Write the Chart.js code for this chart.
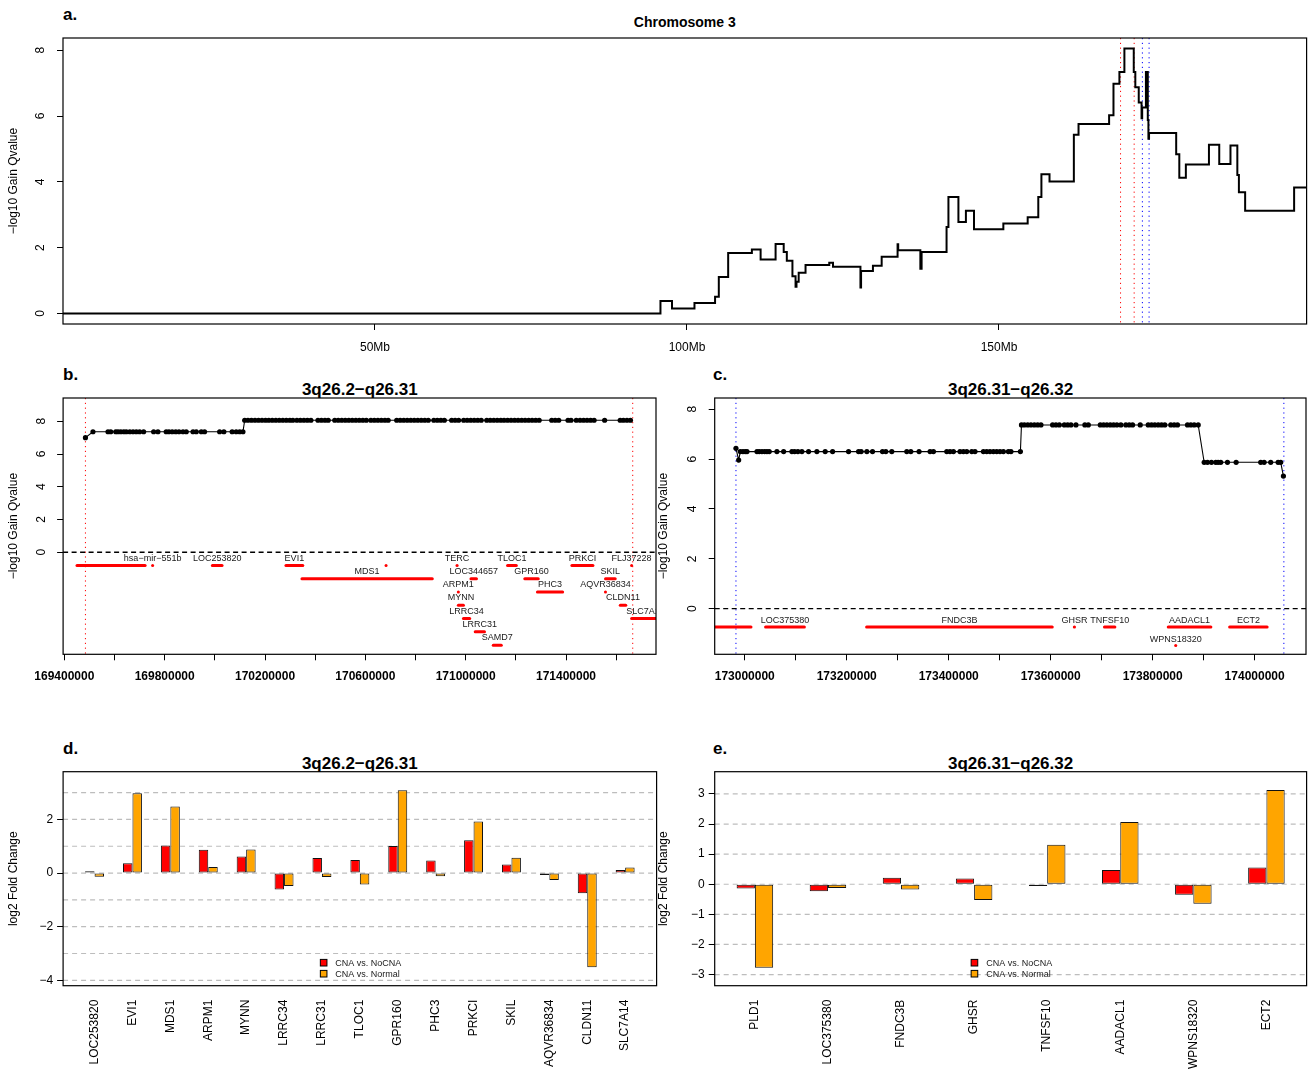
<!DOCTYPE html>
<html>
<head>
<meta charset="utf-8">
<title>Chromosome 3 gain and expression</title>
<script src="https://cdn.jsdelivr.net/npm/chart.js@4.4.1/dist/chart.umd.min.js"></script>
<style>
  html, body { margin: 0; padding: 0; background: #fff; }
  body { width: 1310px; height: 1072px; position: relative; overflow: hidden;
         font-family: "Liberation Sans", Arial, Helvetica, sans-serif; color: #000; }
  canvas { position: absolute; }
  .lab { position: absolute; font-weight: bold; font-size: 17px; line-height: 1;
         transform: translate(0, -50%); white-space: nowrap; }
  .ttl { position: absolute; font-weight: bold; font-size: 17px; line-height: 1;
         transform: translate(-50%, -50%); white-space: nowrap; }
</style>
</head>
<body>
<div class="lab" style="left:63px;top:14px">a.</div>
<div class="ttl" style="left:684.8px;top:22px;font-size:14px">Chromosome 3</div>
<div class="lab" style="left:63px;top:374px">b.</div>
<div class="ttl" style="left:359.8px;top:389px">3q26.2−q26.31</div>
<div class="lab" style="left:713px;top:374px">c.</div>
<div class="ttl" style="left:1010.6px;top:389px">3q26.31−q26.32</div>
<div class="lab" style="left:63px;top:748px">d.</div>
<div class="ttl" style="left:359.8px;top:763px">3q26.2−q26.31</div>
<div class="lab" style="left:713px;top:748px">e.</div>
<div class="ttl" style="left:1010.6px;top:763px">3q26.31−q26.32</div>

<canvas id="cA" width="1310" height="360" style="left:0;top:0"></canvas>
<canvas id="cB" width="660" height="335" style="left:0;top:360px"></canvas>
<canvas id="cC" width="660" height="335" style="left:650px;top:360px"></canvas>
<canvas id="cD" width="660" height="337" style="left:0;top:735px"></canvas>
<canvas id="cE" width="660" height="337" style="left:650px;top:735px"></canvas>

<script>
// ---------- a. Chromosome 3 gain profile (segment start in Mb, -log10 q-value) ----------
const chrStartMb = [0, 95.75, 97.6, 101.2, 104.5, 105.1, 106.6, 110.4, 111.8, 114.2,
  115.5, 116.0, 116.9, 117.4, 117.55, 117.9, 119.0, 122.8, 123.4, 127.8,
  127.9, 129.8, 131.2, 133.75, 133.85, 137.4, 137.6, 141.6, 141.9, 143.5,
  144.7, 146.0, 150.7, 154.6, 156.3, 156.8, 158.1, 162.0, 162.75, 167.65,
  168.35, 169.3, 170.1, 171.6, 171.85, 172.4, 172.85, 172.95, 173.55, 173.85,
  173.95, 174.05, 178.4, 178.9, 179.95, 183.65, 185.3, 187.1, 188.2, 188.45,
  189.45, 197.3];
const chrQ = [0, 0.38, 0.15, 0.32, 0.51, 1.11, 1.84, 1.94, 1.64, 2.11,
  1.87, 1.60, 1.13, 0.81, 0.96, 1.24, 1.47, 1.54, 1.42, 0.79,
  1.29, 1.45, 1.72, 2.10, 1.92, 1.36, 1.87, 2.63, 3.54, 2.78,
  3.12, 2.56, 2.73, 2.92, 3.54, 4.23, 4.01, 5.43, 5.76, 6.02,
  6.98, 7.34, 8.05, 7.34, 6.87, 6.41, 5.93, 6.26, 7.34, 5.88,
  5.31, 5.48, 4.84, 4.12, 4.53, 5.13, 4.54, 5.10, 4.21, 3.68,
  3.12, 3.83];
const chrEndMb = 199.3;
const chrTicksMb = [50, 100, 150];
const qTicks = [0, 2, 4, 6, 8];

// peak region boundaries (bp)
const regionB = [169484000, 171666000];
const regionC = [172982800, 174057300];

// ---------- b. 3q26.2-q26.31 ----------
const bPointPos = [169484000, 169514000, 169574000, 169585000, 169605000, 169614000, 169625000, 169637000,
  169647000, 169661000, 169674000, 169687000, 169700000, 169716000, 169756000, 169773000, 169806000,
  169817000, 169830000, 169844000, 169857000, 169873000, 169886000, 169913000, 169926000, 169946000,
  169959000, 170019000, 170036000, 170069000, 170085000, 170099000, 170112000,
  170119000, 170132000, 170146000, 170160000, 170174000, 170188000, 170202000, 170215000, 170229000,
  170243000, 170257000, 170271000, 170285000, 170299000, 170311000, 170327000, 170341000, 170355000,
  170369000, 170383000, 170411000, 170425000, 170439000, 170452000, 170478000, 170492000, 170506000,
  170520000, 170534000, 170548000, 170562000, 170576000, 170590000, 170604000, 170622000, 170636000,
  170650000, 170664000, 170678000, 170691000, 170725000, 170739000, 170753000, 170767000, 170781000,
  170795000, 170809000, 170823000, 170837000, 170851000, 170873000, 170887000, 170901000, 170915000,
  170944000, 170958000, 170972000, 170992000, 171006000, 171020000, 171034000, 171048000, 171062000,
  171084000, 171098000, 171112000, 171126000, 171140000, 171153000, 171167000, 171181000, 171195000,
  171209000, 171223000, 171237000, 171251000, 171265000, 171279000, 171293000, 171343000, 171357000,
  171371000, 171408000, 171420000, 171441000, 171456000, 171470000, 171484000, 171498000, 171512000,
  171554000, 171616000, 171629000, 171643000, 171657000];
const bPointQ = [7.00,
  7.36, 7.36, 7.36, 7.36, 7.36, 7.36, 7.36, 7.36, 7.36, 7.36, 7.36, 7.36, 7.36, 7.36, 7.36, 7.36,
  7.36, 7.36, 7.36, 7.36, 7.36, 7.36, 7.36, 7.36, 7.36, 7.36, 7.36, 7.36, 7.36, 7.36, 7.36, 7.36,
  8.06, 8.06, 8.06, 8.06, 8.06, 8.06, 8.06, 8.06, 8.06, 8.06, 8.06, 8.06, 8.06, 8.06, 8.06, 8.06,
  8.06, 8.06, 8.06, 8.06, 8.06, 8.06, 8.06, 8.06, 8.06, 8.06, 8.06, 8.06, 8.06, 8.06, 8.06, 8.06,
  8.06, 8.06, 8.06, 8.06, 8.06, 8.06, 8.06, 8.06, 8.06, 8.06, 8.06, 8.06, 8.06, 8.06, 8.06, 8.06,
  8.06, 8.06, 8.06, 8.06, 8.06, 8.06, 8.06, 8.06, 8.06, 8.06, 8.06, 8.06, 8.06, 8.06, 8.06, 8.06,
  8.06, 8.06, 8.06, 8.06, 8.06, 8.06, 8.06, 8.06, 8.06, 8.06, 8.06, 8.06, 8.06, 8.06, 8.06, 8.06,
  8.06, 8.06, 8.06, 8.06, 8.06, 8.06, 8.06, 8.06, 8.06, 8.06, 8.06, 8.06, 8.06, 8.06, 8.06];
const bGeneName = ['', 'hsa−mir−551b', 'LOC253820', 'EVI1', '', 'TERC', 'TLOC1', 'PRKCI', 'FLJ37228',
  'MDS1', 'LOC344657', 'GPR160', 'SKIL', 'ARPM1', 'PHC3', 'AQVR36834', 'MYNN', 'CLDN11',
  'LRRC34', 'SLC7A14', 'LRRC31', 'SAMD7'];
const bGeneStart = [169450300, 169751900, 169990000, 170283500, 170682500, 170965400, 171167000, 171423500, 171661500,
  170347200, 171021000, 171235700, 171557500, 170970600, 171286000, 171557300, 170970800, 171616400,
  170991000, 171661600, 171038000, 171110000];
const bGeneEnd = [169721900, 169752000, 170028700, 170350600, 170682600, 170965800, 171202000, 171507300, 171661600,
  170866900, 171043000, 171289300, 171596100, 170970800, 171386600, 171557500, 170991000, 171638200,
  171016000, 171771800, 171075000, 171142000];
const bGeneRow = [1, 1, 1, 1, 1, 1, 1, 1, 1, 2, 2, 2, 2, 3, 3, 3, 4, 4, 5, 5, 6, 7];
const bTicks = [169400000, 169600000, 169800000, 170000000, 170200000, 170400000,
  170600000, 170800000, 171000000, 171200000, 171400000, 171600000];
const bTickLabels = [169400000, 169800000, 170200000, 170600000, 171000000, 171400000];

// ---------- c. 3q26.31-q26.32 ----------
const cPointPos = [172982800, 172988100,
  172991300, 172996500, 173001000, 173004400, 173024000, 173028500, 173033800, 173039000, 173043600,
  173048100, 173063100, 173076300, 173092500, 173097800, 173104300, 173112100, 173125200, 173141500,
  173157800, 173172300, 173203600, 173223200, 173228300, 173239500, 173250600, 173270200, 173276700,
  173288400, 173317800, 173325700, 173341900, 173363500, 173370100, 173396200, 173402600, 173409300,
  173422200, 173428900, 173435400, 173445200, 173451600, 173468100, 173474500, 173481000, 173487700,
  173494100, 173500600, 173507300, 173517000, 173522100, 173540600,
  173542700, 173548400, 173554900, 173561300, 173568000, 173574400, 173580900, 173603800, 173610300,
  173617000, 173626800, 173633200, 173639700, 173649500, 173667100, 173673800, 173697300, 173703700,
  173710200, 173716900, 173723300, 173729800, 173737600, 173747400, 173754100, 173760600, 173775600,
  173791300, 173797800, 173804200, 173810900, 173817400, 173823800, 173835600, 173842200, 173848700,
  173868300, 173874800, 173881400, 173889300,
  173901000, 173907500, 173915300, 173923700, 173928400, 173933500, 173946700, 173963700, 174011900,
  174018600, 174031500, 174046000, 174051100,
  174056400];
const cPointQ = [6.43, 5.96,
  6.30, 6.30, 6.30, 6.30, 6.30, 6.30, 6.30, 6.30, 6.30, 6.30, 6.30, 6.30, 6.30, 6.30, 6.30, 6.30, 6.30,
  6.30, 6.30, 6.30, 6.30, 6.30, 6.30, 6.30, 6.30, 6.30, 6.30, 6.30, 6.30, 6.30, 6.30, 6.30, 6.30, 6.30,
  6.30, 6.30, 6.30, 6.30, 6.30, 6.30, 6.30, 6.30, 6.30, 6.30, 6.30, 6.30, 6.30, 6.30, 6.30, 6.30, 6.30,
  7.37, 7.37, 7.37, 7.37, 7.37, 7.37, 7.37, 7.37, 7.37, 7.37, 7.37, 7.37, 7.37, 7.37, 7.37, 7.37, 7.37,
  7.37, 7.37, 7.37, 7.37, 7.37, 7.37, 7.37, 7.37, 7.37, 7.37, 7.37, 7.37, 7.37, 7.37, 7.37, 7.37, 7.37,
  7.37, 7.37, 7.37, 7.37, 7.37, 7.37,
  5.87, 5.87, 5.87, 5.87, 5.87, 5.87, 5.87, 5.87, 5.87, 5.87, 5.87, 5.87, 5.87,
  5.32];
const cGeneName = ['PLD1', 'LOC375380', 'FNDC3B', 'GHSR', 'TNFSF10', 'AADACL1', 'ECT2', 'WPNS18320'];
const cGeneStart = [172800000, 173040900, 173239000, 173646300, 173705400, 173830600, 173950900, 173845100];
const cGeneEnd = [173012300, 173117000, 173603100, 173646700, 173725900, 173914100, 174024500, 173845300];
const cGeneRow = [1, 1, 1, 1, 1, 1, 1, 2];
const cTicks = [173000000, 173100000, 173200000, 173300000, 173400000, 173500000,
  173600000, 173700000, 173800000, 173900000, 174000000];
const cTickLabels = [173000000, 173200000, 173400000, 173600000, 173800000, 174000000];

// ---------- d. / e. log2 fold change of genes in each region ----------
const seriesNames = ['CNA vs. NoCNA', 'CNA vs. Normal'];
const dGenes = ['LOC253820', 'EVI1', 'MDS1', 'ARPM1', 'MYNN', 'LRRC34', 'LRRC31', 'TLOC1',
  'GPR160', 'PHC3', 'PRKCI', 'SKIL', 'AQVR36834', 'CLDN11', 'SLC7A14'];
const dNoCNA = [0.07, 0.37, 1.03, 0.87, 0.62, -0.61, 0.56, 0.49, 1.01, 0.47, 1.22, 0.32, -0.07, -0.75, 0.11];
const dNormal = [-0.14, 2.98, 2.48, 0.23, 0.88, -0.48, -0.15, -0.43, 3.09, -0.12, 1.92, 0.57, -0.26, -3.51, 0.21];
const dTicks = [-4, -2, 0, 2];
const dGrid = [-4, -3, -2, -1, 0, 1, 2, 3];

const eGenes = ['PLD1', 'LOC375380', 'FNDC3B', 'GHSR', 'TNFSF10', 'AADACL1', 'WPNS18320', 'ECT2'];
const eNoCNA = [-0.14, -0.23, 0.22, 0.19, -0.06, 0.47, -0.35, 0.56];
const eNormal = [-2.77, -0.12, -0.17, -0.52, 1.31, 2.07, -0.65, 3.13];
const eTicks = [-3, -2, -1, 0, 1, 2, 3];
const eGrid = [-3, -2, -1, 0, 1, 2, 3];

// ---------------------------------------------------------------------------
const FONT = '"Liberation Sans", Arial, Helvetica, sans-serif';
Chart.defaults.font.family = FONT;
Chart.defaults.color = '#000';

const setTicks = values => scale => { scale.ticks = values.map(v => ({ value: v })); };
const fixWidth = w => scale => { scale.width = w; };
const fixHeight = h => scale => { scale.height = h; };
const minus = s => String(s).replace('-', '\u2212');

// box around the plotting region
const framePlugin = {
  id: 'frame',
  afterDraw(chart) {
    const { ctx, chartArea: a } = chart;
    ctx.save();
    ctx.strokeStyle = '#000';
    ctx.lineWidth = 1.2;
    ctx.strokeRect(a.left, a.top, a.right - a.left, a.bottom - a.top);
    ctx.restore();
  }
};

// dotted vertical markers for region boundaries
const vLinePlugin = {
  id: 'vlines',
  beforeDatasetsDraw(chart, args, opts) {
    if (!opts || !opts.values) return;
    const { ctx, chartArea: a, scales: { x } } = chart;
    ctx.save();
    ctx.beginPath(); ctx.rect(a.left, a.top, a.right - a.left, a.bottom - a.top); ctx.clip();
    ctx.lineWidth = 1;
    ctx.setLineDash([1.2, 3.6]);
    opts.values.forEach((v, i) => {
      ctx.strokeStyle = opts.colors[i];
      const px = x.getPixelForValue(v);
      ctx.beginPath(); ctx.moveTo(px, a.top); ctx.lineTo(px, a.bottom); ctx.stroke();
    });
    ctx.restore();
  }
};

// dashed horizontal reference lines
const hLinePlugin = {
  id: 'hlines',
  beforeDatasetsDraw(chart, args, opts) {
    if (!opts || !opts.values) return;
    const { ctx, chartArea: a, scales: { y } } = chart;
    ctx.save();
    ctx.strokeStyle = opts.color;
    ctx.lineWidth = opts.width;
    ctx.setLineDash(opts.dash);
    opts.values.forEach(v => {
      const py = y.getPixelForValue(v);
      ctx.beginPath(); ctx.moveTo(a.left, py); ctx.lineTo(a.right, py); ctx.stroke();
    });
    ctx.restore();
  }
};

// gene names above their extent
const geneLabelPlugin = {
  id: 'geneLabels',
  afterDatasetsDraw(chart, args, opts) {
    if (!opts || !opts.names) return;
    const { ctx, chartArea: a, scales: { x, y } } = chart;
    ctx.save();
    ctx.beginPath(); ctx.rect(a.left, a.top, a.right - a.left, a.bottom - a.top); ctx.clip();
    ctx.font = '9px ' + FONT;
    ctx.fillStyle = '#1a1a1a';
    ctx.textAlign = 'center';
    ctx.textBaseline = 'middle';
    opts.names.forEach((n, i) => {
      if (!n) return;
      const px = x.getPixelForValue((opts.start[i] + opts.end[i]) / 2);
      const py = y.getPixelForValue(-opts.rowStep * opts.rows[i]) - opts.lift;
      ctx.fillText(n, px, py);
    });
    ctx.restore();
  }
};

// two-entry legend at the bottom centre of the plotting region
const barLegendPlugin = {
  id: 'barLegend',
  afterDraw(chart) {
    const { ctx, chartArea: a } = chart;
    const cx = (a.left + a.right) / 2;
    ctx.save();
    ctx.font = '9px ' + FONT;
    ctx.textAlign = 'left';
    ctx.textBaseline = 'middle';
    chart.data.datasets.forEach((ds, i) => {
      const cy = a.bottom - 23 + i * 11;
      ctx.fillStyle = ds.backgroundColor;
      ctx.fillRect(cx - 39.5, cy - 3.3, 6.6, 6.6);
      ctx.strokeStyle = '#000';
      ctx.lineWidth = 1;
      ctx.strokeRect(cx - 39.5, cy - 3.3, 6.6, 6.6);
      ctx.fillStyle = '#1a1a1a';
      ctx.fillText(ds.label, cx - 24.5, cy + 0.5);
    });
    ctx.restore();
  }
};

const tickGrid = { display: true, drawOnChartArea: false, drawTicks: true, tickLength: 6,
                   color: '#000', tickColor: '#000', lineWidth: 1 };
const baseOptions = {
  responsive: false, animation: false, events: [], devicePixelRatio: 1
};

function qAxis(min, max, width) {
  return {
    type: 'linear', min, max,
    afterBuildTicks: setTicks(qTicks), afterFit: fixWidth(width),
    ticks: { minRotation: 90, maxRotation: 90, crossAlign: 'center', padding: 12.5,
             font: { size: 12 }, autoSkip: false },
    grid: tickGrid, border: { display: false },
    title: { display: true, text: '\u2212log10 Gain Qvalue', font: { size: 12 },
             padding: { top: 6, bottom: 0 } }
  };
}

function bpAxis(min, max, ticks, labelled) {
  return {
    type: 'linear', min, max,
    afterBuildTicks: setTicks(ticks), afterFit: fixHeight(40.7),
    ticks: { autoSkip: false, maxRotation: 0, padding: 9, font: { size: 12, weight: 'bold' },
             callback: v => (labelled.includes(v) ? String(v) : '') },
    grid: tickGrid, border: { display: false }
  };
}

function geneDatasets(start, end, rows, rowStep) {
  return start.map((s, i) => ({
    type: 'line',
    data: [{ x: s, y: -rowStep * rows[i] }, { x: end[i], y: -rowStep * rows[i] }],
    borderColor: '#ff0000', borderWidth: 3, borderCapStyle: 'round',
    stepped: true, pointRadius: 0, fill: false, clip: 0
  }));
}

function pointDataset(pos, q) {
  return {
    type: 'line',
    data: pos.map((p, i) => ({ x: p, y: q[i] })),
    borderColor: '#000', borderWidth: 1.1,
    pointRadius: 2.6, pointBackgroundColor: '#000', pointBorderWidth: 0,
    fill: false, clip: 2
  };
}

// ---------- a ----------
new Chart(document.getElementById('cA'), {
  type: 'line',
  data: {
    datasets: [{
      data: chrStartMb.map((x, i) => ({ x, y: chrQ[i] }))
        .concat([{ x: chrEndMb, y: chrQ[chrQ.length - 1] }]),
      stepped: true, borderColor: '#000', borderWidth: 2, pointRadius: 0, fill: false, clip: 0
    }]
  },
  options: {
    ...baseOptions,
    layout: { padding: { top: 38, right: 3.4, left: 0, bottom: 0 } },
    plugins: {
      legend: { display: false }, tooltip: { enabled: false },
      vlines: { values: [regionB[0] / 1e6, regionB[1] / 1e6, regionC[0] / 1e6, regionC[1] / 1e6],
                colors: ['#ff0000', '#ff0000', '#0000ff', '#0000ff'] }
    },
    scales: {
      x: {
        type: 'linear', min: 0, max: chrEndMb,
        afterBuildTicks: setTicks(chrTicksMb), afterFit: fixHeight(36),
        ticks: { autoSkip: false, maxRotation: 0, padding: 10, font: { size: 12 },
                 callback: v => v + 'Mb' },
        grid: tickGrid, border: { display: false }
      },
      y: qAxis(-0.32, 8.37, 63)
    }
  },
  plugins: [vLinePlugin, framePlugin]
});

// ---------- b ----------
const B_ROW = 0.81;
new Chart(document.getElementById('cB'), {
  type: 'line',
  data: { datasets: [pointDataset(bPointPos, bPointQ)]
    .concat(geneDatasets(bGeneStart, bGeneEnd, bGeneRow, B_ROW)) },
  options: {
    ...baseOptions,
    layout: { padding: { top: 38, right: 3.4, left: 0, bottom: 0 } },
    plugins: {
      legend: { display: false }, tooltip: { enabled: false },
      vlines: { values: regionB, colors: ['#ff0000', '#ff0000'] },
      hlines: { values: [0], color: '#000', width: 1.4, dash: [5, 3.5] },
      geneLabels: { names: bGeneName, start: bGeneStart, end: bGeneEnd, rows: bGeneRow,
                    rowStep: B_ROW, lift: 7.5 }
    },
    scales: {
      x: bpAxis(169394970, 171758800, bTicks, bTickLabels),
      y: qAxis(-6.23, 9.42, 63.1)
    }
  },
  plugins: [vLinePlugin, hLinePlugin, geneLabelPlugin, framePlugin]
});

// ---------- c ----------
const C_ROW = 0.74;
new Chart(document.getElementById('cC'), {
  type: 'line',
  data: { datasets: [pointDataset(cPointPos, cPointQ)]
    .concat(geneDatasets(cGeneStart, cGeneEnd, cGeneRow, C_ROW)) },
  options: {
    ...baseOptions,
    layout: { padding: { top: 38, right: 3.4, left: 0, bottom: 0 } },
    plugins: {
      legend: { display: false }, tooltip: { enabled: false },
      vlines: { values: regionC, colors: ['#0000ff', '#0000ff'] },
      hlines: { values: [0], color: '#000', width: 1.4, dash: [5, 3.5] },
      geneLabels: { names: cGeneName, start: cGeneStart, end: cGeneEnd, rows: cGeneRow,
                    rowStep: C_ROW, lift: 6.2 }
    },
    scales: {
      x: bpAxis(172941100, 174100700, cTicks, cTickLabels),
      y: qAxis(-1.83, 8.45, 64.7)
    }
  },
  plugins: [vLinePlugin, hLinePlugin, geneLabelPlugin, framePlugin]
});

// ---------- d / e ----------
function foldChart(id, genes, noCNA, normal, ymin, ymax, ticks, grid, xPad, yWidth) {
  const idx = genes.map((g, i) => i);
  const bar = (label, vals, color) => ({
    label,
    data: vals.map((v, i) => ({ x: i, y: v })),
    backgroundColor: color, borderColor: '#111', borderWidth: 1, borderSkipped: false,
    categoryPercentage: 0.5, barPercentage: 1.0
  });
  return new Chart(document.getElementById(id), {
    type: 'bar',
    data: { datasets: [bar(seriesNames[0], noCNA, '#ff0000'), bar(seriesNames[1], normal, '#ffa500')] },
    options: {
      ...baseOptions,
      layout: { padding: { top: 36.7, right: 3.4, left: 0, bottom: 0 } },
      plugins: {
        legend: { display: false }, tooltip: { enabled: false },
        hlines: { values: grid, color: '#bdbdbd', width: 1.2, dash: [5, 4] }
      },
      scales: {
        x: {
          type: 'linear', min: -xPad, max: genes.length - 1 + xPad, offset: false,
          afterBuildTicks: setTicks(idx), afterFit: fixHeight(86.3),
          ticks: { autoSkip: false, minRotation: 90, maxRotation: 90, padding: 14,
                   font: { size: 12 }, callback: v => genes[v] },
          grid: { display: false, drawTicks: false }, border: { display: false }
        },
        y: {
          type: 'linear', min: ymin, max: ymax,
          afterBuildTicks: setTicks(ticks), afterFit: fixWidth(yWidth),
          ticks: { padding: 4, font: { size: 12 }, autoSkip: false, callback: v => minus(v) },
          grid: tickGrid, border: { display: false },
          title: { display: true, text: 'log2 Fold Change', font: { size: 12 },
                   padding: { top: 6, bottom: 0 } }
        }
      }
    },
    plugins: [hLinePlugin, barLegendPlugin, framePlugin]
  });
}

foldChart('cD', dGenes, dNoCNA, dNormal, -4.2, 3.78, dTicks, dGrid, 0.83, 63.1);
foldChart('cE', eGenes, eNoCNA, eNormal, -3.37, 3.74, eTicks, eGrid, 0.55, 64.7);
</script>
</body>
</html>
